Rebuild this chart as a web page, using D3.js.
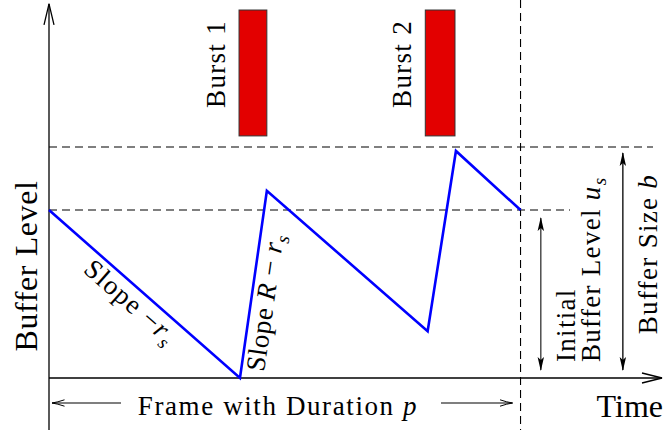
<!DOCTYPE html>
<html>
<head>
<meta charset="utf-8">
<script src="https://cdn.jsdelivr.net/npm/d3@7"></script>
<style>
  html, body { margin: 0; padding: 0; background: #fff; }
  svg { display: block; }
  text { font-family: "Liberation Serif", "Times New Roman", serif; fill: #000; }
</style>
</head>
<body>
<svg id="chart" width="665" height="430"></svg>
<script>
// Buffer level over one frame: drains at r_s, fills at R - r_s during bursts
const times  = [0, 4.05, 4.62, 8.03, 8.63, 10];
const levels = [7.27, 0, 8.1, 2.03, 9.83, 7.27];

// Burst intervals (time units)
const burstNames = ["Burst 1", "Burst 2"];
const burstStart = [4.03, 7.98];
const burstEnd   = [4.62, 8.61];

// Key quantities
const frameDuration = 10;     // p
const initialLevel = 7.27;    // u_s
const bufferSize = 10;        // b

const W = 665, H = 430;
const FS = 27, LS = 1.3;      // label font size and letter spacing
const svg = d3.select("#chart");

const x = d3.scaleLinear().domain([0, 13]).range([49, 662]);
const y = d3.scaleLinear().domain([0, 10]).range([378, 147]);

// ---- dashed guide lines ----
const dash = "8,5";
svg.append("line")
  .attr("x1", x(0)).attr("x2", 653)
  .attr("y1", y(bufferSize)).attr("y2", y(bufferSize))
  .attr("stroke", "#000").attr("stroke-width", 1.1).attr("stroke-dasharray", dash);
svg.append("line")
  .attr("x1", x(0)).attr("x2", 570)
  .attr("y1", y(initialLevel)).attr("y2", y(initialLevel))
  .attr("stroke", "#000").attr("stroke-width", 1.1).attr("stroke-dasharray", dash);
svg.append("line")
  .attr("x1", x(frameDuration)).attr("x2", x(frameDuration))
  .attr("y1", 0).attr("y2", H)
  .attr("stroke", "#000").attr("stroke-width", 1.1).attr("stroke-dasharray", dash);

// ---- axes with open arrowheads ----
svg.append("line")
  .attr("x1", x(0)).attr("x2", x(0))
  .attr("y1", y(16.2)).attr("y2", H)
  .attr("stroke", "#000").attr("stroke-width", 1.3);
svg.append("path")
  .attr("d", `M${x(0) - 5},${y(16.2) + 21} L${x(0)},${y(16.2)} L${x(0) + 5},${y(16.2) + 21}`)
  .attr("fill", "none").attr("stroke", "#000").attr("stroke-width", 1.3);

svg.append("line")
  .attr("x1", x(0)).attr("x2", x(13))
  .attr("y1", y(0)).attr("y2", y(0))
  .attr("stroke", "#000").attr("stroke-width", 1.3);
svg.append("path")
  .attr("d", `M${x(13) - 20},${y(0) - 5} L${x(13)},${y(0)} L${x(13) - 20},${y(0) + 5}`)
  .attr("fill", "none").attr("stroke", "#000").attr("stroke-width", 1.3);

// ---- bursts ----
const burstTop = 15.93, burstBottom = 10.48;
const bursts = burstNames.map((n, i) => ({ name: n, s: burstStart[i], e: burstEnd[i] }));
svg.selectAll("rect.burst").data(bursts).enter().append("rect")
  .attr("class", "burst")
  .attr("x", d => x(d.s))
  .attr("y", y(burstTop))
  .attr("width", d => x(d.e) - x(d.s))
  .attr("height", y(burstBottom) - y(burstTop))
  .attr("fill", "#e30000").attr("stroke", "#333").attr("stroke-width", 1);

svg.selectAll("text.burst").data(bursts).enter().append("text")
  .attr("class", "burst")
  .attr("transform", d => `translate(${x(d.s) - 14},${y(burstBottom) - 28}) rotate(-90)`)
  .attr("text-anchor", "start")
  .attr("font-size", FS).attr("letter-spacing", LS)
  .text(d => d.name);

// ---- buffer level curve ----
const pts = times.map((t, i) => [x(t), y(levels[i])]);
svg.append("path")
  .attr("d", d3.line()(pts))
  .attr("fill", "none").attr("stroke", "#0000ff").attr("stroke-width", 2.6)
  .attr("stroke-linejoin", "miter");

// place a label parallel to a segment: `along` px from its start, `off` px to its side
function segmentFrame(p0, p1, along, off) {
  const len = Math.hypot(p1[0] - p0[0], p1[1] - p0[1]);
  const ux = (p1[0] - p0[0]) / len, uy = (p1[1] - p0[1]) / len;
  const nx = -uy, ny = ux;
  return {
    x: p0[0] + ux * along + nx * off,
    y: p0[1] + uy * along + ny * off,
    ang: Math.atan2(uy, ux) * 180 / Math.PI,
    len
  };
}

// slope label along the first draining segment (below the line)
{
  const f0 = segmentFrame(pts[0], pts[1], 0, 0);
  const f = segmentFrame(pts[0], pts[1], 0.48 * f0.len, 24);
  const tx = svg.append("text")
    .attr("transform", `translate(${f.x},${f.y}) rotate(${f.ang})`)
    .attr("text-anchor", "middle").attr("font-size", FS).attr("letter-spacing", LS);
  tx.append("tspan").text("Slope \u2212");
  tx.append("tspan").attr("font-style", "italic").text("r");
  tx.append("tspan").attr("font-style", "italic").attr("font-size", 19).attr("dy", 6).text("s");
}

// slope label along the first filling segment (right of the line)
{
  const f = segmentFrame(pts[1], pts[2], 9, 23);
  const tx = svg.append("text")
    .attr("transform", `translate(${f.x},${f.y}) rotate(${f.ang})`)
    .attr("text-anchor", "start").attr("font-size", FS).attr("letter-spacing", 0.6);
  tx.append("tspan").text("Slope ");
  tx.append("tspan").attr("font-style", "italic").text("R");
  tx.append("tspan").text(" \u2212 ");
  tx.append("tspan").attr("font-style", "italic").text("r");
  tx.append("tspan").attr("font-style", "italic").attr("font-size", 19).attr("dy", 6).text("s");
}

// ---- arrow markers ----
const defs = svg.append("defs");
defs.append("marker")
  .attr("id", "solidHead").attr("viewBox", "0 0 14 8")
  .attr("refX", 13).attr("refY", 4)
  .attr("markerWidth", 14).attr("markerHeight", 8)
  .attr("markerUnits", "userSpaceOnUse")
  .attr("orient", "auto-start-reverse")
  .append("path").attr("d", "M0,0.8 L14,4 L0,7.2 L3,4 Z").attr("fill", "#000");

defs.append("marker")
  .attr("id", "openHead").attr("viewBox", "0 0 13 8")
  .attr("refX", 12.5).attr("refY", 4)
  .attr("markerWidth", 13).attr("markerHeight", 8)
  .attr("markerUnits", "userSpaceOnUse")
  .attr("orient", "auto-start-reverse")
  .append("path").attr("d", "M0,0.8 Q7,3.2 12.5,4 Q7,4.8 0,7.2")
  .attr("fill", "none").attr("stroke", "#000").attr("stroke-width", 1);

// ---- double arrows for u_s and b ----
svg.append("line")
  .attr("x1", x(10.43)).attr("x2", x(10.43))
  .attr("y1", y(initialLevel) + 8).attr("y2", y(0) - 8)
  .attr("stroke", "#333").attr("stroke-width", 1.3)
  .attr("marker-start", "url(#solidHead)").attr("marker-end", "url(#solidHead)");
svg.append("line")
  .attr("x1", x(12.17)).attr("x2", x(12.17))
  .attr("y1", y(bufferSize) + 6).attr("y2", y(0) - 8)
  .attr("stroke", "#000").attr("stroke-width", 1.3)
  .attr("marker-start", "url(#solidHead)").attr("marker-end", "url(#solidHead)");

{
  svg.append("text")
    .attr("transform", `translate(575,362) rotate(-90)`)
    .attr("font-size", FS).attr("letter-spacing", LS).text("Initial");
  const t2 = svg.append("text")
    .attr("transform", `translate(600,362) rotate(-90)`)
    .attr("font-size", FS).attr("letter-spacing", LS);
  t2.append("tspan").text("Buffer Level ");
  t2.append("tspan").attr("font-style", "italic").text("u");
  t2.append("tspan").attr("font-style", "italic").attr("font-size", 19).attr("dy", 6).text("s");
  const t3 = svg.append("text")
    .attr("transform", `translate(657,254) rotate(-90)`)
    .attr("text-anchor", "middle").attr("font-size", FS).attr("letter-spacing", LS);
  t3.append("tspan").text("Buffer Size ");
  t3.append("tspan").attr("font-style", "italic").text("b");
}

// ---- frame duration annotation ----
svg.append("line")
  .attr("x1", 121).attr("x2", x(0) + 3)
  .attr("y1", 403).attr("y2", 403)
  .attr("stroke", "#000").attr("stroke-width", 1.1)
  .attr("marker-end", "url(#openHead)");
svg.append("line")
  .attr("x1", 441).attr("x2", x(frameDuration) - 8)
  .attr("y1", 403).attr("y2", 403)
  .attr("stroke", "#000").attr("stroke-width", 1.1)
  .attr("marker-end", "url(#openHead)");
{
  const t = svg.append("text")
    .attr("x", 278).attr("y", 415)
    .attr("text-anchor", "middle").attr("font-size", FS).attr("letter-spacing", 1.6);
  t.append("tspan").text("Frame with Duration ");
  t.append("tspan").attr("font-style", "italic").text("p");
}

// ---- axis titles ----
svg.append("text")
  .attr("transform", `translate(37,266) rotate(-90)`)
  .attr("text-anchor", "middle").attr("font-size", 32).attr("letter-spacing", 0.6)
  .text("Buffer Level");
svg.append("text")
  .attr("x", 663).attr("y", 417)
  .attr("text-anchor", "end").attr("font-size", 32)
  .text("Time");
</script>
</body>
</html>
